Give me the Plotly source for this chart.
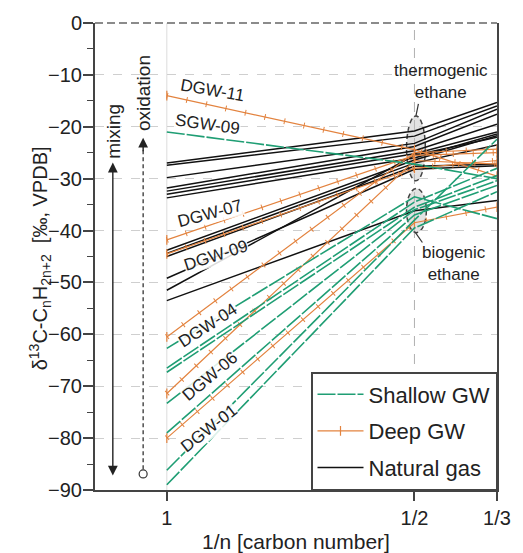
import plotly.graph_objects as go

# ---------------- data ----------------
carbon_number = [1, 2, 3]
tick_vals = [1, 1/2, 1/3]
tick_text = ["1", "1/2", "1/3"]

# Natural gas (C1, C2, C3)
ng_c1 = [-27.0, -27.4, -29.8, -31.8, -32.4, -33.0, -33.7, -43.8, -44.4, -45.0, -49.2, -51.5, -53.5]
ng_c2 = [-20.8, -21.8, -23.2, -23.8, -24.6, -25.2, -26.0, -26.4, -27.0, -27.6, -28.2, -25.5, -36.2]
ng_c3 = [-15.3, -16.0, -16.6, -17.6, -19.5, -21.0, -21.4, -21.7, -23.5, -27.2, -27.5, -22.0, -34.2]

# Deep groundwater
dgw_names = ["DGW-11", "DGW-07", "DGW-09", "DGW-04", "DGW-06", "DGW-01"]
dgw_c1 = [-14.0, -41.8, -44.5, -60.5, -71.4, -80.0]
dgw_c2 = [-24.4, -25.5, -28.0, -25.0, -26.5, -38.5]
dgw_c3 = [-29.5, -25.0, -26.5, -24.3, -27.2, -35.5]

# Shallow groundwater
sgw_c1 = [-21.0, -62.7, -66.5, -67.3, -73.3, -79.0, -86.2, -89.0]
sgw_c2 = [-27.2, -33.5, -34.5, -35.5, -36.0, -37.0, -38.0, -39.5]
sgw_c3 = [-30.0, -37.7, -28.0, -29.4, -30.4, -31.3, -22.4, -32.5]

FONT = "Arial, Liberation Sans, sans-serif"
GREEN = "#1f9e74"
ORANGE = "#e3833f"
BLACK = "#111111"
AX = "#444444"


def series(c1, c2, c3):
    xs, ys = [], []
    for a, b, c in zip(c1, c2, c3):
        xs += [1 / n for n in carbon_number] + [None]
        ys += [a, b, c, None]
    return xs, ys


fig = go.Figure()

x, y = series(ng_c1, ng_c2, ng_c3)
fig.add_trace(go.Scatter(x=x, y=y, mode="lines", name="Natural gas",
                         line=dict(color=BLACK, width=1.5),
                         legendgroup="c", legendrank=3))

x, y = series(dgw_c1, dgw_c2, dgw_c3)
fig.add_trace(go.Scatter(x=x, y=y, mode="lines+markers", name="Deep GW",
                         line=dict(color=ORANGE, width=1.2),
                         marker=dict(symbol="line-ns-open", size=7,
                                     line=dict(color=ORANGE, width=1.2)),
                         legendgroup="b", legendrank=2))
fig.add_trace(go.Scatter(x=x, y=y, mode="lines", showlegend=False,
                         line=dict(color=ORANGE, width=6, dash="1px,19px"),
                         hoverinfo="skip", legendgroup="b"))

x, y = series(sgw_c1, sgw_c2, sgw_c3)
fig.add_trace(go.Scatter(x=x, y=y, mode="lines", name="Shallow GW",
                         line=dict(color=GREEN, width=1.6, dash="18px,2px"),
                         legendgroup="a", legendrank=1))

shapes = []
# vertical reference lines
shapes.append(dict(type="line", xref="x", yref="y", x0=1, x1=1, y0=-90, y1=0,
                   line=dict(color="#dddddd", width=1), layer="below"))
shapes.append(dict(type="line", xref="x", yref="y", x0=0.5, x1=0.5, y0=-90, y1=0,
                   line=dict(color="#b0b0b0", width=1, dash="10px,8px"), layer="below"))
# top dashed border
shapes.append(dict(type="line", xref="paper", yref="paper", x0=0, x1=1, y0=1, y1=1,
                   line=dict(color="#666666", width=1.5, dash="8px,4px")))
# ellipses
shapes.append(dict(type="circle", xref="x", yref="y", x0=0.516, x1=0.478, y0=-17.9, y1=-30.4,
                   fillcolor="rgba(190,190,190,0.45)", line=dict(color="#444", width=1.5, dash="5px,3px"),
                   layer="below"))
shapes.append(dict(type="circle", xref="x", yref="y", x0=0.516, x1=0.476, y0=-31.9, y1=-40.4,
                   fillcolor="rgba(190,190,190,0.45)", line=dict(color="#444", width=1.5, dash="5px,3px"),
                   layer="below"))
# leader lines
shapes.append(dict(type="line", xref="x", yref="y", x0=0.492, x1=0.497, y0=-15.6, y1=-17.9,
                   line=dict(color="#333", width=1.2)))
shapes.append(dict(type="line", xref="x", yref="y", x0=0.498, x1=0.484, y0=-40.4, y1=-42.3,
                   line=dict(color="#333", width=1.2)))
# oxidation dashed line + circle
shapes.append(dict(type="line", xref="x", yref="y", x0=1.0478, x1=1.0478, y0=-86.0, y1=-24.0,
                   line=dict(color="#333", width=1.3, dash="4px,3px")))
shapes.append(dict(type="circle", xref="x", yref="y", xsizemode="pixel", ysizemode="pixel",
                   xanchor=1.0478, yanchor=-86.9, x0=-4, x1=4, y0=-4, y1=4,
                   fillcolor="white", line=dict(color="#333", width=1.2)))

annotations = []
# mixing arrow (double headed)
annotations.append(dict(x=1.109, y=-26.9, ax=1.109, ay=-87.5, xref="x", yref="y",
                        axref="x", ayref="y", text="", showarrow=True, arrowhead=2,
                        arrowside="end+start", arrowsize=1.4, arrowwidth=1.4, arrowcolor="#222"))
# oxidation arrowhead
annotations.append(dict(x=1.0478, y=-22.1, ax=1.0478, ay=-25.0, xref="x", yref="y",
                        axref="x", ayref="y", text="", showarrow=True, arrowhead=2,
                        arrowsize=1.4, arrowwidth=1.4, arrowcolor="#222"))
annotations.append(dict(x=1.107, y=-20.8, xref="x", yref="y", text="mixing", textangle=-90,
                        showarrow=False, font=dict(family=FONT, size=19, color="#222")))
annotations.append(dict(x=1.048, y=-13.5, xref="x", yref="y", text="oxidation", textangle=-90,
                        showarrow=False, font=dict(family=FONT, size=19, color="#222")))

# sample labels
label_names = ["DGW-11", "SGW-09", "DGW-07", "DGW-09", "DGW-04", "DGW-06", "DGW-01"]
label_x = [0.907, 0.917, 0.913, 0.901, 0.917, 0.913, 0.915]
label_y = [-13.1, -19.6, -36.7, -44.8, -58.3, -68.1, -78.1]
label_ang = [10, 8, -15, -18, -33, -40, -38]
for t, lx, ly, la in zip(label_names, label_x, label_y, label_ang):
    annotations.append(dict(x=lx, y=ly, xref="x", yref="y", text=t, textangle=la,
                            showarrow=False, bgcolor="rgba(255,255,255,0.85)", borderpad=0,
                            font=dict(family=FONT, size=17, color="#222")))

annotations.append(dict(x=0.447, y=-11.3, xref="x", yref="y", text="thermogenic<br>ethane",
                        showarrow=False, font=dict(family=FONT, size=17, color="#222")))
annotations.append(dict(x=0.421, y=-46.3, xref="x", yref="y", text="biogenic<br>ethane",
                        showarrow=False, font=dict(family=FONT, size=17, color="#222")))

# axis titles
annotations.append(dict(x=-0.178, y=0.496, xref="paper", yref="paper", textangle=-90,
                        text="δ<sup>13</sup>C-C<sub>n</sub>H<sub>2n+2</sub>  [‰, VPDB]",
                        showarrow=False, font=dict(family=FONT, size=20, color="#222")))
annotations.append(dict(x=0.5, y=-0.11, xref="paper", yref="paper", yanchor="middle",
                        text="1/n [carbon number]",
                        showarrow=False, font=dict(family=FONT, size=21, color="#222")))

fig.update_layout(
    width=523, height=553,
    margin=dict(l=95, r=18, t=22, b=63),
    paper_bgcolor="white", plot_bgcolor="white",
    font=dict(family=FONT, size=20, color="#222"),
    shapes=shapes, annotations=annotations,
    legend=dict(x=1, xanchor="right", y=0, yanchor="bottom",
                bgcolor="white", bordercolor=AX, borderwidth=1.5,
                font=dict(family=FONT, size=22, color="#222"),
                itemwidth=46, tracegroupgap=5),
    xaxis=dict(range=[1.145, 1/3], tickvals=tick_vals, ticktext=tick_text,
               showgrid=False, zeroline=False, showline=True, linecolor=AX, linewidth=2,
               ticks="outside", ticklen=9, tickwidth=1.5, tickcolor=AX,
               tickfont=dict(family=FONT, size=20, color="#222")),
    yaxis=dict(range=[-90, 0], dtick=10, tick0=0,
               showgrid=True, gridcolor="#cfcfcf", gridwidth=1, griddash="dash",
               zeroline=False, showline=True, mirror=True, linecolor=AX, linewidth=2,
               ticks="outside", ticklen=10, tickwidth=1.5, tickcolor=AX,
               ticklabelstandoff=-3,
               minor=dict(dtick=5, ticks="outside", ticklen=6, tickwidth=1.2, tickcolor=AX,
                          showgrid=False),
               tickfont=dict(family=FONT, size=20, color="#222")),
)

# remove the default 8px body margin so the figure fills the window exactly
fig.write_html("out.html", config={"displayModeBar": False},
               post_script="document.body.style.margin='0';document.body.style.overflow='hidden';")
